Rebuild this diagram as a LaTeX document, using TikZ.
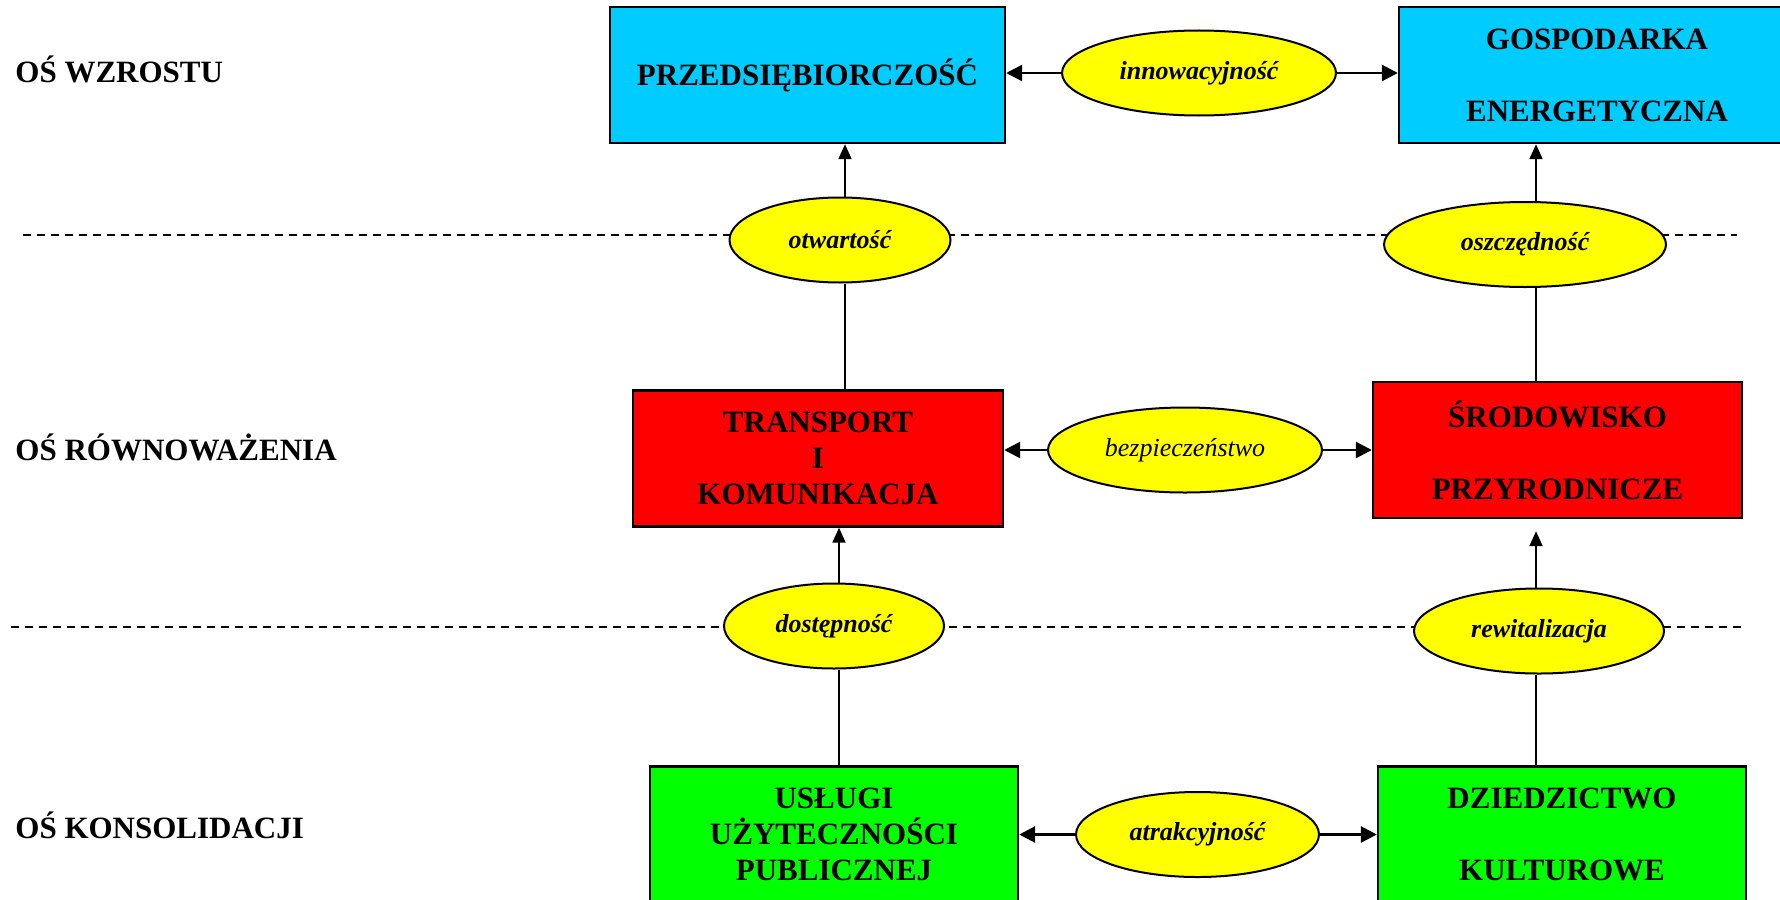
\documentclass[tikz,border=0pt]{standalone}
\usepackage{fontspec}
\setmainfont{Liberation Serif}
\usepackage{xcolor}
\usepackage{tikz}
\usetikzlibrary{arrows.meta,shapes.geometric}
\definecolor{blekit}{HTML}{00CCFF}
\definecolor{czerwien}{HTML}{FF0000}
\definecolor{zielen}{HTML}{00FF00}
\definecolor{zolc}{HTML}{FFFF00}

\begin{document}
\begin{tikzpicture}[>=Triangle, x=0.5pt, y=-0.5pt]
    \tikzset{
        obszar/.style={
            draw=black,
            rectangle,
            line width=1.2pt,
            inner sep=0pt,
            align=center,
            minimum height=68pt,
            font=\fontsize{15.5}{18}\selectfont\bfseries
        },
        cecha/.style={
            draw=black,
            ellipse,
            line width=1pt,
            inner sep=0pt,
            fill=zolc,
            minimum height=42.5pt,
            font=\fontsize{13}{15}\selectfont\bfseries\itshape
        },
        os/.style={
            anchor=west,
            inner sep=0pt,
            font=\fontsize{15.5}{18}\selectfont\bfseries
        },
        wiez/.style={
            ->,
            line width=1.4pt,
            >={Triangle[length=8pt,width=8pt]}
        },
        pion/.style={
            line width=1pt
        },
        pionstrz/.style={
            ->,
            line width=1pt,
            >={Triangle[length=7.5pt,width=6.5pt]}
        },
        granica/.style={
            line width=1.2pt,
            dash pattern=on 3.75pt off 3.25pt
        }
    }
    \path[use as bounding box, clip] (0,0) rectangle (1780,899);

    % Osie
    \node[os] (wzrost)    at (15,69)  {OŚ WZROSTU};
    \node[os] (rownowaga) at (15,447) {OŚ RÓWNOWAŻENIA};
    \node[os] (konsol)    at (15,825) {OŚ KONSOLIDACJI};

    % Granice miedzy osiami
    \draw[granica] (23,235) -- (1737,235);
    \draw[granica] (11,627) -- (1743,627);

    % Obszary
    \node[obszar, fill=blekit, minimum width=197.5pt]   (przed)     at (807.5,75)   {PRZEDSIĘBIORCZOŚĆ};
    \node[obszar, fill=blekit, minimum width=198pt]     (gosp)      at (1597,75)    {GOSPODARKA\\[18pt]ENERGETYCZNA};
    \node[obszar, fill=czerwien, minimum width=185pt]   (transport) at (818,458.5)  {TRANSPORT\\I\\KOMUNIKACJA};
    \node[obszar, fill=czerwien, minimum width=184.5pt] (srod)      at (1557.5,450) {ŚRODOWISKO\\[18pt]PRZYRODNICZE};
    \node[obszar, fill=zielen, minimum width=184pt]     (uslugi)    at (834,834.5)  {USŁUGI\\UŻYTECZNOŚCI\\PUBLICZNEJ};
    \node[obszar, fill=zielen, minimum width=184pt]     (dziedz)    at (1562,834.5) {DZIEDZICTWO\\[18pt]KULTUROWE};

    % Cechy
    \node[cecha, minimum width=137pt]   (innow)  at (1199,73)    {innowacyjność};
    \node[cecha, minimum width=110.5pt] (otwart) at (840,240)    {otwartość};
    \node[cecha, minimum width=141pt]   (oszcz)  at (1525,244.5) {oszczędność};
    \node[cecha, minimum width=137pt, font=\fontsize{13}{15}\selectfont\itshape] (bezp) at (1185,450) {bezpieczeństwo};
    \node[cecha, minimum width=110pt]   (dostep) at (834,626)    {dostępność};
    \node[cecha, minimum width=125pt]   (rewit)  at (1539,631)   {rewitalizacja};
    \node[cecha, minimum width=121.5pt] (atrak)  at (1197.5,834.5) {atrakcyjność};

    % Kolumny polaczen pionowych
    \coordinate (kolA) at (845,0);
    \coordinate (kolB) at (839,0);
    \coordinate (kolC) at (1536,0);

    % Polaczenia poziome
    \draw[wiez] (innow.west) -- (innow.west -| przed.east);
    \draw[wiez] (innow.east) -- (innow.east -| gosp.west);
    \draw[wiez] (bezp.west)  -- (bezp.west -| transport.east);
    \draw[wiez] (bezp.east)  -- (bezp.east -| srod.west);
    \draw[wiez] (atrak.west) -- (atrak.west -| uslugi.east);
    \draw[wiez] (atrak.east) -- (atrak.east -| dziedz.west);

    % Polaczenia pionowe
    \draw[pion]     (transport.north -| kolA) -- (otwart.south -| kolA);
    \draw[pionstrz] (otwart.north -| kolA)    -- (przed.south -| kolA);
    \draw[pion]     (uslugi.north -| kolB)    -- (dostep.south -| kolB);
    \draw[pionstrz] (dostep.north -| kolB)    -- (transport.south -| kolB);
    \draw[pion]     (srod.north -| kolC)      -- (oszcz.south -| kolC);
    \draw[pionstrz] (oszcz.north -| kolC)     -- (gosp.south -| kolC);
    \draw[pion]     (dziedz.north -| kolC)    -- (rewit.south -| kolC);
    \draw[pionstrz, shorten >=6pt] (rewit.north -| kolC) -- (srod.south -| kolC);
\end{tikzpicture}
\end{document}
